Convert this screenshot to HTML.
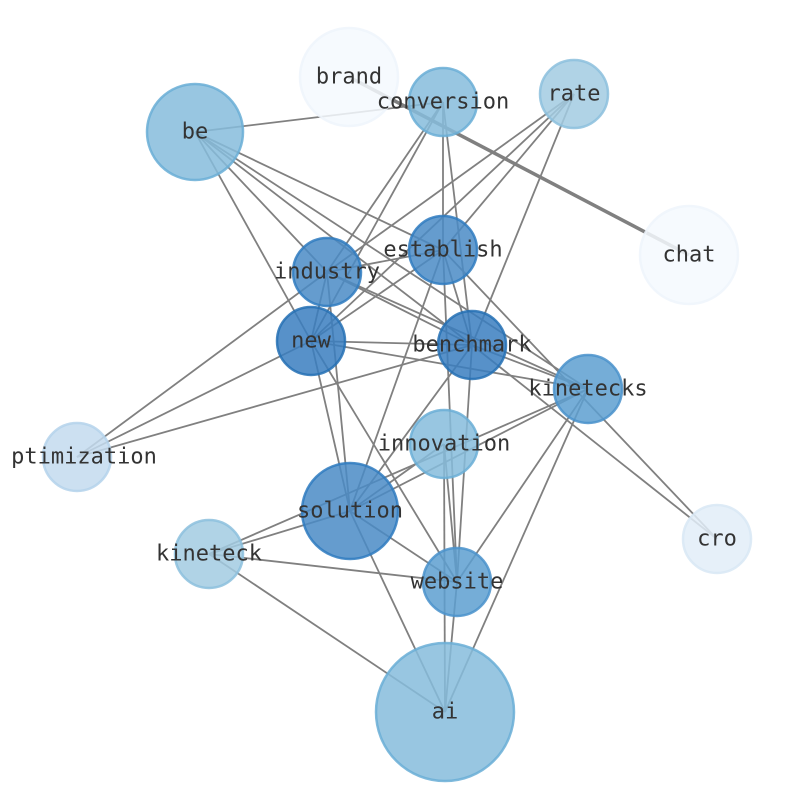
<!DOCTYPE html>
<html><head><meta charset="utf-8"><style>
body{margin:0;background:#fff}
text{font-family:"DejaVu Sans Mono","Liberation Mono",monospace;font-size:22px;fill:#333;text-anchor:middle;dominant-baseline:central}
</style></head><body>
<svg width="794" height="790" viewBox="0 0 794 790" xmlns="http://www.w3.org/2000/svg">
<g stroke="#808080" stroke-width="1.8" fill="none">
<line x1="349" y1="77" x2="689" y2="255" stroke-width="3.5"/>
<line x1="195" y1="132" x2="443" y2="102"/>
<line x1="195" y1="132" x2="327" y2="272"/>
<line x1="195" y1="132" x2="311" y2="341"/>
<line x1="195" y1="132" x2="443" y2="250"/>
<line x1="195" y1="132" x2="472" y2="345"/>
<line x1="195" y1="132" x2="588" y2="389"/>
<line x1="443" y1="102" x2="327" y2="272"/>
<line x1="443" y1="102" x2="311" y2="341"/>
<line x1="443" y1="102" x2="443" y2="250"/>
<line x1="443" y1="102" x2="472" y2="345"/>
<line x1="574" y1="94" x2="327" y2="272"/>
<line x1="574" y1="94" x2="311" y2="341"/>
<line x1="574" y1="94" x2="443" y2="250"/>
<line x1="574" y1="94" x2="472" y2="345"/>
<line x1="443" y1="250" x2="327" y2="272"/>
<line x1="443" y1="250" x2="311" y2="341"/>
<line x1="443" y1="250" x2="472" y2="345"/>
<line x1="443" y1="250" x2="350" y2="511"/>
<line x1="443" y1="250" x2="457" y2="582"/>
<line x1="443" y1="250" x2="717" y2="539"/>
<line x1="327" y1="272" x2="311" y2="341"/>
<line x1="327" y1="272" x2="472" y2="345"/>
<line x1="327" y1="272" x2="588" y2="389"/>
<line x1="327" y1="272" x2="350" y2="511"/>
<line x1="327" y1="272" x2="77" y2="457"/>
<line x1="311" y1="341" x2="472" y2="345"/>
<line x1="311" y1="341" x2="588" y2="389"/>
<line x1="311" y1="341" x2="350" y2="511"/>
<line x1="311" y1="341" x2="457" y2="582"/>
<line x1="311" y1="341" x2="77" y2="457"/>
<line x1="472" y1="345" x2="77" y2="457"/>
<line x1="472" y1="345" x2="350" y2="511"/>
<line x1="472" y1="345" x2="457" y2="582"/>
<line x1="472" y1="345" x2="588" y2="389"/>
<line x1="472" y1="345" x2="717" y2="539"/>
<line x1="588" y1="389" x2="350" y2="511"/>
<line x1="588" y1="389" x2="209" y2="554"/>
<line x1="588" y1="389" x2="457" y2="582"/>
<line x1="588" y1="389" x2="445" y2="712"/>
<line x1="444" y1="444" x2="457" y2="582"/>
<line x1="444" y1="444" x2="445" y2="712"/>
<line x1="444" y1="444" x2="350" y2="511"/>
<line x1="209" y1="554" x2="350" y2="511"/>
<line x1="209" y1="554" x2="457" y2="582"/>
<line x1="209" y1="554" x2="445" y2="712"/>
<line x1="350" y1="511" x2="457" y2="582"/>
<line x1="350" y1="511" x2="445" y2="712"/>
<line x1="457" y1="582" x2="445" y2="712"/>
</g>
<g stroke-width="2.5" fill-opacity="0.85" stroke-opacity="0.85">
<circle cx="349" cy="77" r="49" fill="#f4f9fe" stroke="#eef5fc"/>
<circle cx="443" cy="102" r="34" fill="#86bcdc" stroke="#6aaed6"/>
<circle cx="574" cy="94" r="34" fill="#a2cbe2" stroke="#8cc0dd"/>
<circle cx="195" cy="132" r="48" fill="#86bcdc" stroke="#6aaed6"/>
<circle cx="689" cy="255" r="49" fill="#f4f9fe" stroke="#eef5fc"/>
<circle cx="443" cy="250" r="34" fill="#4a8bc6" stroke="#2f7bbf"/>
<circle cx="327" cy="272" r="34" fill="#4a8bc6" stroke="#2f7bbf"/>
<circle cx="311" cy="341" r="34" fill="#3a7ebf" stroke="#2570b4"/>
<circle cx="472" cy="345" r="34" fill="#3a7ebf" stroke="#2570b4"/>
<circle cx="588" cy="389" r="34" fill="#5d9fd0" stroke="#4a92cb"/>
<circle cx="77" cy="457" r="34" fill="#c3daee" stroke="#b4d2eb"/>
<circle cx="444" cy="444" r="34" fill="#86bcdc" stroke="#6aaed6"/>
<circle cx="350" cy="511" r="48" fill="#4a8bc6" stroke="#2f7bbf"/>
<circle cx="717" cy="539" r="34" fill="#e2edf8" stroke="#d8e7f5"/>
<circle cx="209" cy="554" r="34" fill="#a2cbe2" stroke="#8cc0dd"/>
<circle cx="457" cy="582" r="34" fill="#5d9fd0" stroke="#4a92cb"/>
<circle cx="445" cy="712" r="69" fill="#86bcdc" stroke="#6aaed6"/>
</g>
<g>
<text x="349" y="77">brand</text>
<text x="443" y="102">conversion</text>
<text x="574" y="94">rate</text>
<text x="195" y="132">be</text>
<text x="689" y="255">chat</text>
<text x="443" y="250">establish</text>
<text x="327" y="272">industry</text>
<text x="311" y="341">new</text>
<text x="472" y="345">benchmark</text>
<text x="588" y="389">kinetecks</text>
<text x="84" y="457">ptimization</text>
<text x="444" y="444">innovation</text>
<text x="350" y="511">solution</text>
<text x="717" y="539">cro</text>
<text x="209" y="554">kineteck</text>
<text x="457" y="582">website</text>
<text x="445" y="712">ai</text>
</g>
</svg>
</body></html>
